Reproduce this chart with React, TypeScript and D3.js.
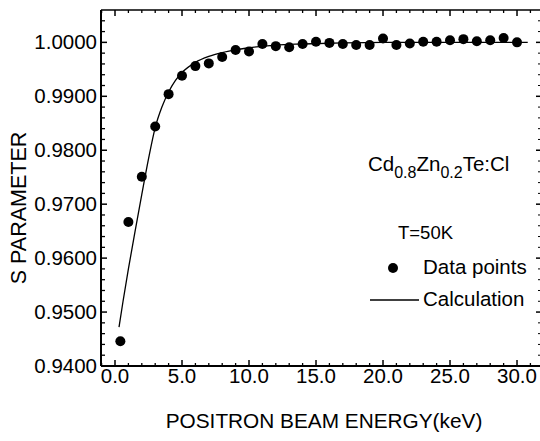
import React from "react";
import * as d3 from "d3";

const energy: number[] = [0.4, 1, 2, 3, 4, 5, 6, 7, 8, 9, 10, 11, 12, 13, 14, 15, 16, 17, 18, 19, 20, 21, 22, 23, 24, 25, 26, 27, 28, 29, 30];
const sParam: number[] = [0.9446, 0.9667, 0.9751, 0.9844, 0.9904, 0.9938, 0.9956, 0.9961, 0.9973, 0.9986, 0.9983, 0.9997, 0.9993, 0.9991, 0.9997, 1.0001, 0.9999, 0.9997, 0.9995, 0.9995, 1.0007, 0.9995, 0.9998, 1.0001, 1.0001, 1.0004, 1.0006, 1.0002, 1.0004, 1.0008, 1.0000];

const calcEnergy: number[] = [0.3, 0.6, 1.0, 1.5, 2.0, 2.5, 3.0, 3.5, 4.0, 4.5, 5.0, 6.0, 7.0, 8.0, 9.0, 10.0, 12.0, 14.0, 17.0, 20.0, 25.0, 30.8];
const calcS: number[] = [0.9472, 0.9520, 0.9580, 0.9650, 0.9718, 0.9784, 0.9842, 0.9880, 0.9908, 0.9929, 0.9944, 0.9963, 0.9974, 0.9981, 0.9986, 0.9990, 0.9995, 0.9997, 0.9999, 1.0000, 1.0000, 1.0000];

const xTicks: number[] = [0, 5, 10, 15, 20, 25, 30];
const yTicks: number[] = [0.94, 0.95, 0.96, 0.97, 0.98, 0.99, 1.0];

const W = 540, H = 441;
const L = 101, R = 541, T = 10, B = 366;
const FONT = "'Liberation Sans', Arial, Helvetica, sans-serif";

export default function App() {
  const x = d3.scaleLinear().domain([-1.045, 31.79]).range([L, R]);
  const y = d3.scaleLinear().domain([0.94, 1.006]).range([B, T]);

  const xMinor = d3.range(-1, 32, 1).filter((v) => v % 5 !== 0 && x(v) > L && x(v) < R);
  const yMinor = d3.range(0, 34).map((i) => 0.94 + i * 0.002).filter((v) => Math.abs(Math.round(v * 100) - v * 100) > 1e-6 && y(v) > T);

  const line = d3.line<number>().x((_, i) => x(calcEnergy[i])).y((_, i) => y(calcS[i])).curve(d3.curveMonotoneX);

  const pts = energy.map((e, i) => ({ e, s: sParam[i] }));

  return (
    <svg width={W} height={H} style={{ position: "absolute", left: 0, top: 0, background: "#fff" }} fontFamily={FONT}>
      <rect x={0} y={0} width={W} height={H} fill="#fff" />
      {/* frame */}
      <line x1={L} y1={B} x2={R} y2={B} stroke="#000" strokeWidth={2} />
      <line x1={L} y1={T} x2={L} y2={B} stroke="#000" strokeWidth={2} />
      <line x1={L} y1={T} x2={R} y2={T} stroke="#000" strokeWidth={1.5} />
      <line x1={R} y1={T} x2={R} y2={B} stroke="#000" strokeWidth={1.5} />
      {/* x ticks */}
      {xTicks.map((t) => (
        <g key={"xt" + t}>
          <line x1={x(t)} x2={x(t)} y1={B} y2={B - 6} stroke="#000" strokeWidth={1.5} />
          <line x1={x(t)} x2={x(t)} y1={T} y2={T + 6} stroke="#000" strokeWidth={1.5} />
          <text x={x(t)} y={383} fontSize={20.5} textAnchor="middle">{t.toFixed(1)}</text>
        </g>
      ))}
      {xMinor.map((t) => (
        <g key={"xm" + t}>
          <line x1={x(t)} x2={x(t)} y1={B} y2={B - 3} stroke="#000" strokeWidth={1.3} />
          <line x1={x(t)} x2={x(t)} y1={T} y2={T + 3} stroke="#000" strokeWidth={1.3} />
        </g>
      ))}
      {/* y ticks */}
      {yTicks.map((t) => (
        <g key={"yt" + t}>
          <line x1={L} x2={L + 6} y1={y(t)} y2={y(t)} stroke="#000" strokeWidth={1.5} />
          <line x1={R} x2={R - 5} y1={y(t)} y2={y(t)} stroke="#000" strokeWidth={1.5} />
          <text x={97} y={y(t) + 7} fontSize={20.5} textAnchor="end">{t.toFixed(4)}</text>
        </g>
      ))}
      {yMinor.map((t, i) => (
        <g key={"ym" + i}>
          <line x1={L} x2={L + 4} y1={y(t)} y2={y(t)} stroke="#000" strokeWidth={1.3} />
          <line x1={R} x2={R - 3} y1={y(t)} y2={y(t)} stroke="#000" strokeWidth={1} />
        </g>
      ))}
      {/* calculation curve */}
      <path d={line(calcEnergy) || ""} fill="none" stroke="#000" strokeWidth={1.3} />
      {/* data points */}
      {pts.map((p, i) => (
        <circle key={"p" + i} cx={x(p.e)} cy={y(p.s)} r={5} fill="#000" />
      ))}
      {/* axis titles */}
      <text x={324} y={428} fontSize={20.8} textAnchor="middle">POSITRON BEAM ENERGY(keV)</text>
      <text transform="translate(26,208) rotate(-90)" fontSize={21.5} textAnchor="middle">S PARAMETER</text>
      {/* annotations */}
      <text x={368} y={171} fontSize={20.5}>
        Cd<tspan fontSize={16} dy={7}>0.8</tspan><tspan dy={-7}>Zn</tspan><tspan fontSize={16} dy={7}>0.2</tspan><tspan dy={-7}>Te:Cl</tspan>
      </text>
      <text x={398} y={239} fontSize={18.5}>T=50K</text>
      <circle cx={393} cy={268} r={5} fill="#000" />
      <text x={423} y={274} fontSize={20.5}>Data points</text>
      <line x1={370} x2={419} y1={300} y2={300} stroke="#000" strokeWidth={1.3} />
      <text x={423} y={306} fontSize={20.5}>Calculation</text>
    </svg>
  );
}
